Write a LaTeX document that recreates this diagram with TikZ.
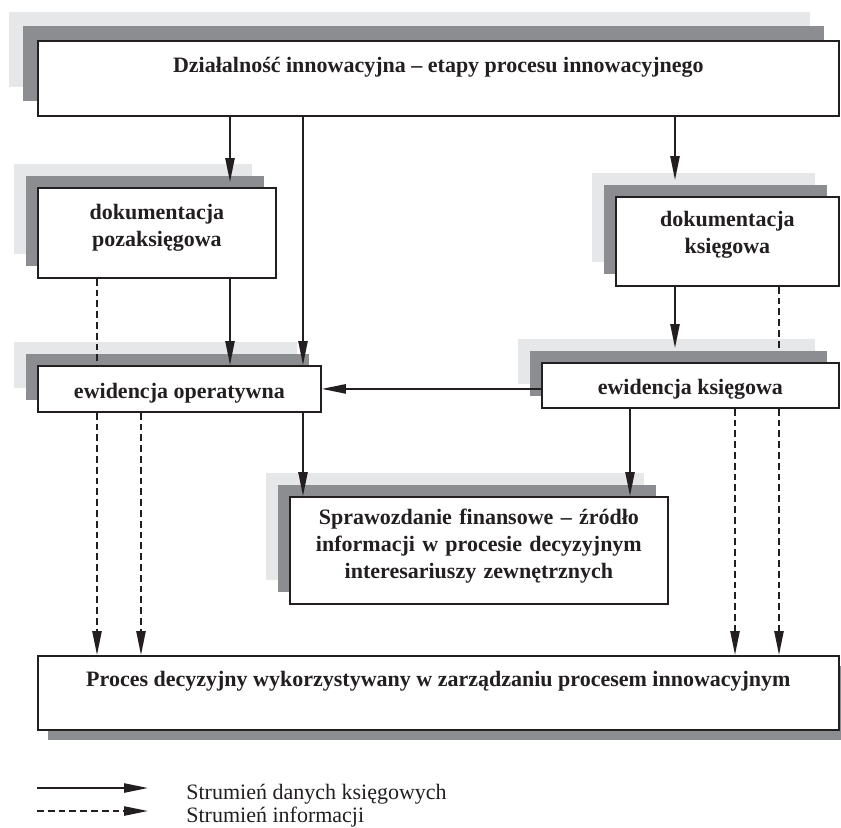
\documentclass[tikz,border=0pt]{standalone}
\usepackage{fontspec}
\setmainfont{Liberation Serif}
\usetikzlibrary{arrows.meta,shadows}

\definecolor{ink}{RGB}{35,31,32}
\definecolor{shadelight}{RGB}{230,231,232}
\definecolor{shadedark}{RGB}{140,141,145}

\begin{document}
\begin{tikzpicture}[x=0.5pt, y=-0.5pt, color=ink,
    box/.style = {draw, fill=white, line width=0.9pt, anchor=north west, inner sep=0pt,
                  font=\fontsize{11}{13.4}\selectfont\bfseries, align=center, text height=8pt},
    layered/.style = {general shadow={shadow xshift=-2*#1, shadow yshift=2*#1, fill=shadelight},
                      general shadow={shadow xshift=-#1, shadow yshift=#1, fill=shadedark}},
    flow/.style = {line width=0.9pt, -{Triangle[length=12pt, width=4.6pt]}},
    info/.style = {flow, dash pattern=on 3.4pt off 2pt},
    infoline/.style = {line width=0.9pt, dash pattern=on 3.4pt off 2pt},
    legend/.style = {anchor=base west, inner sep=0pt, font=\fontsize{11}{13.4}\selectfont}]
    \path[use as bounding box, fill=white] (0,0) rectangle (841,827);

    \node[box, layered=7.25pt, minimum width=400.5pt, minimum height=37.5pt, text depth=14.3pt]
        (dzial) at (37,40) {Działalność innowacyjna – etapy procesu innowacyjnego};
    \node[box, layered=6pt, minimum width=119pt, minimum height=45pt, text width=115pt, text depth=21.4pt]
        (pozaks) at (37,187) {dokumentacja\\pozaksięgowa};
    \node[box, layered=6pt, minimum width=111.5pt, minimum height=44.5pt, text width=107pt, text depth=23pt]
        (ksieg) at (615,196) {dokumentacja\\księgowa};
    \node[box, layered=6pt, minimum width=141.5pt, minimum height=23pt, text height=9.2pt, text depth=0pt]
        (ewop) at (37,365) {ewidencja operatywna};
    \node[box, layered=6pt, minimum width=148.5pt, minimum height=22.5pt, text height=9.2pt, text depth=0pt]
        (ewks) at (541,362) {ewidencja księgowa};
    \node[box, layered=6pt, minimum width=189pt, minimum height=53.5pt, text width=185pt, text depth=33.6pt]
        (spraw) at (289,496) {Sprawozdanie finansowe – źródło\\informacji w procesie decyzyjnym\\interesariuszy zewnętrznych};
    \node[box, general shadow={shadow xshift=5pt, shadow yshift=-5pt, fill=shadedark},
          minimum width=400.5pt, minimum height=37pt, text depth=14.8pt]
        (proces) at (37,655) {Proces decyzyjny wykorzystywany w zarządzaniu procesem innowacyjnym};

    % columns of the connectors
    \coordinate (c1) at (97,0);
    \coordinate (c2) at (141,0);
    \coordinate (c3) at (230,0);
    \coordinate (c4) at (303,0);
    \coordinate (c5) at (630,0);
    \coordinate (c6) at (675,0);
    \coordinate (c7) at (735,0);
    \coordinate (c8) at (779,0);

    \draw[flow, shorten >=2.5pt] (dzial.south -| c3) -- (pozaks.north -| c3);
    \draw[flow] (dzial.south -| c4) -- (ewop.north -| c4);
    \draw[flow, shorten >=8pt] (dzial.south -| c6) -- (ksieg.north -| c6);
    \draw[flow] (pozaks.south -| c3) -- (ewop.north -| c3);
    \draw[infoline] (pozaks.south -| c1) -- (ewop.north -| c1);
    \draw[flow, shorten >=7pt] (ksieg.south -| c6) -- (ewks.north -| c6);
    \draw[infoline, shorten >=7pt] (ksieg.south -| c8) -- (ewks.north -| c8);
    \draw[flow] (ewks.west |- ewop.east) -- (ewop.east);

    \draw[flow] (ewop.south -| c4) -- (spraw.north -| c4);
    \draw[flow] (ewks.south -| c5) -- (spraw.north -| c5);
    \draw[info] (ewop.south -| c1) -- (proces.north -| c1);
    \draw[info] (ewop.south -| c2) -- (proces.north -| c2);
    \draw[info] (ewks.south -| c7) -- (proces.north -| c7);
    \draw[info] (ewks.south -| c8) -- (proces.north -| c8);

    % legend
    \coordinate (l1) at (37,788);
    \coordinate (l2) at (148,788);
    \coordinate (l3) at (37,811);
    \coordinate (l4) at (148,811);
    \draw[flow] (l1) -- (l2);
    \draw[info] (l3) -- (l4);
    \node[legend] (leg1) at (186,799) {Strumień danych księgowych};
    \node[legend] (leg2) at (186,822) {Strumień informacji};
\end{tikzpicture}
\end{document}
